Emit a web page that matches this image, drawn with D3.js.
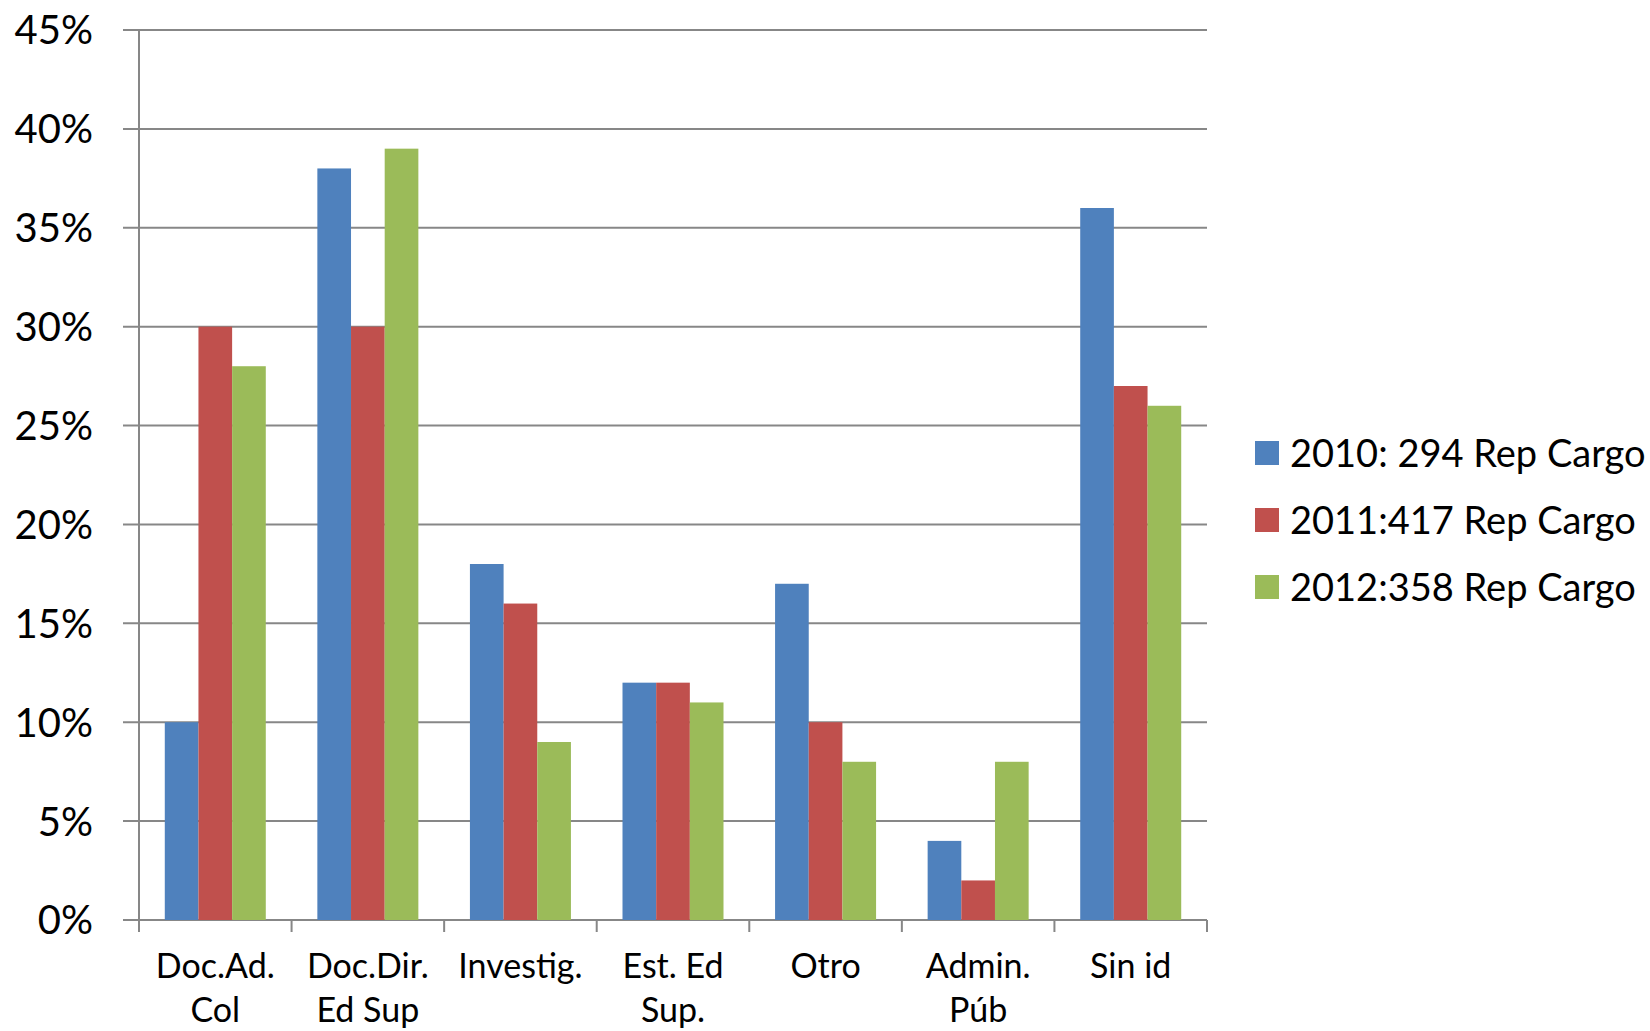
<!DOCTYPE html>
<html>
<head>
<meta charset="utf-8" />
<title>Rep Cargo</title>
<script src="https://cdnjs.cloudflare.com/ajax/libs/d3/7.8.5/d3.min.js"></script>
<style>
	body { margin: 0; background: #ffffff; }
	svg text { font-family: Lato, "Open Sans", sans-serif; fill: #000; }
	.grid line { stroke: #878787; stroke-width: 2; }
</style>
</head>
<body>
<svg id="chart" width="1650" height="1031"></svg>
<script>
// categories (two lines each on the x axis)
const categories = ["Doc.Ad. Col", "Doc.Dir. Ed Sup", "Investig.", "Est. Ed Sup.", "Otro", "Admin. Púb", "Sin id"];
const catLines = [["Doc.Ad.", "Col"], ["Doc.Dir.", "Ed Sup"], ["Investig."], ["Est. Ed", "Sup."], ["Otro"], ["Admin.", "Púb"], ["Sin id"]];

const seriesNames = ["2010: 294 Rep Cargo", "2011:417 Rep Cargo", "2012:358 Rep Cargo"];
const seriesColors = ["#4F81BD", "#C0504D", "#9BBB59"];

const values2010 = [10, 38, 18, 12, 17, 4, 36];
const values2011 = [30, 30, 16, 12, 10, 2, 27];
const values2012 = [28, 39, 9, 11, 8, 8, 26];

const yTicks = [0, 5, 10, 15, 20, 25, 30, 35, 40, 45];

const series = [values2010, values2011, values2012];

let svg = d3.select("#chart");
let plotLeft = 139, plotRight = 1207, plotTop = 30, plotBottom = 920;

let x = d3.scaleBand()
	.domain(categories)
	.range([plotLeft, plotRight])
	.paddingInner(0.338)
	.paddingOuter(0.169);

let xs = d3.scaleBand()
	.domain(d3.range(series.length))
	.range([0, x.bandwidth()]);

let y = d3.scaleLinear()
	.domain([0, 45])
	.range([plotBottom, plotTop]);

// gridlines + left ticks
let grid = svg.append("g").attr("class", "grid");
grid.selectAll("line.h")
	.data(yTicks)
	.enter()
	.append("line")
	.attr("class", "h")
	.attr("x1", plotLeft - 16)
	.attr("x2", plotRight)
	.attr("y1", d => y(d))
	.attr("y2", d => y(d));

// y axis line
grid.append("line")
	.attr("x1", plotLeft).attr("x2", plotLeft)
	.attr("y1", y(45)).attr("y2", plotBottom + 12);

// x ticks between categories
let bounds = categories.map(c => x(c) - x.step() * x.paddingInner() / 2).concat([plotRight]);
grid.selectAll("line.v")
	.data(bounds)
	.enter()
	.append("line")
	.attr("class", "v")
	.attr("x1", d => d).attr("x2", d => d)
	.attr("y1", plotBottom).attr("y2", plotBottom + 12);

// bars
svg.append("g")
	.selectAll("g")
	.data(series)
	.enter()
	.append("g")
	.attr("fill", (d, i) => seriesColors[i])
	.selectAll("rect")
	.data((d, i) => d.map((v, j) => ({ v: v, s: i, c: categories[j] })))
	.enter()
	.append("rect")
	.attr("x", d => x(d.c) + xs(d.s))
	.attr("width", xs.bandwidth())
	.attr("y", d => y(d.v))
	.attr("height", d => y(0) - y(d.v));

// y labels
svg.append("g")
	.selectAll("text")
	.data(yTicks)
	.enter()
	.append("text")
	.attr("x", 93)
	.attr("y", d => y(d))
	.attr("dy", "0.36em")
	.attr("text-anchor", "end")
	.style("font-size", "40px")
	.text(d => d + "%");

// x labels
let xl = svg.append("g")
	.selectAll("text")
	.data(categories)
	.enter()
	.append("text")
	.attr("text-anchor", "middle")
	.style("font-size", "34px")
	.attr("x", d => x(d) + x.bandwidth() / 2)
	.attr("y", 978);
xl.selectAll("tspan")
	.data((d, i) => catLines[i])
	.enter()
	.append("tspan")
	.attr("x", function() { return d3.select(this.parentNode).attr("x"); })
	.attr("dy", (d, i) => i == 0 ? 0 : 44)
	.text(d => d);

// legend
let legend = svg.append("g")
	.selectAll("g")
	.data(seriesNames)
	.enter()
	.append("g")
	.attr("transform", (d, i) => `translate(1255, ${453 + i * 67})`);
legend.append("rect")
	.attr("x", 0).attr("y", -12)
	.attr("width", 24).attr("height", 24)
	.attr("fill", (d, i) => seriesColors[i]);
legend.append("text")
	.attr("x", 35)
	.attr("dy", "0.36em")
	.style("font-size", "38px")
	.text(d => d);
</script>
</body>
</html>
